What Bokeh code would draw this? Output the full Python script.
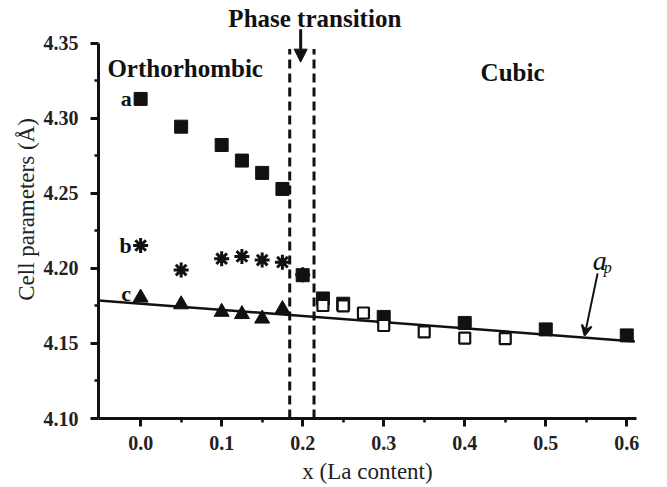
from bokeh.plotting import figure
from bokeh.models import (Range1d, FixedTicker, PrintfTickFormatter, Label,
                          Arrow, NormalHead, VeeHead)
from bokeh.embed import file_html
from bokeh.resources import INLINE

FONT = "Liberation Serif"

# ---- data ----
a_x = [0.0, 0.05, 0.1, 0.125, 0.15, 0.175, 0.2, 0.225, 0.25, 0.3, 0.4, 0.5, 0.6]
a_y = [4.313, 4.2945, 4.2823, 4.2719, 4.2637, 4.253, 4.1955, 4.180, 4.1765, 4.1677, 4.1637, 4.1594, 4.1554]

open_x = [0.225, 0.25, 0.275, 0.3, 0.35, 0.4, 0.45]
open_y = [4.1753, 4.1750, 4.1703, 4.1620, 4.1577, 4.1536, 4.1532]

b_x = [0.0, 0.05, 0.1, 0.125, 0.15, 0.175, 0.2]
b_y = [4.2153, 4.1989, 4.2065, 4.2080, 4.2056, 4.2042, 4.1958]

c_x = [0.0, 0.05, 0.1, 0.125, 0.15, 0.175]
c_y = [4.1805, 4.1760, 4.1710, 4.1695, 4.1665, 4.1728]

ap_line_x = [-0.052, 0.61]
ap_line_y = [4.1787, 4.1514]

transition_x = [0.184, 0.214]

y_ticks = [4.10, 4.15, 4.20, 4.25, 4.30, 4.35]
y_minor = [4.125, 4.175, 4.225, 4.275, 4.325]
x_ticks = [0.0, 0.1, 0.2, 0.3, 0.4, 0.5, 0.6]
x_minor = [0.05, 0.15, 0.25, 0.35, 0.45, 0.55]

p = figure(width=667, height=487, output_backend="svg", toolbar_location=None,
           x_range=Range1d(-0.052, 0.612), y_range=Range1d(4.10, 4.3786),
           min_border_left=98, min_border_right=31, min_border_top=0,
           min_border_bottom=69)
p.outline_line_color = None
p.grid.visible = False
p.background_fill_color = "white"
p.border_fill_color = "white"

for ax in (p.xaxis[0], p.yaxis[0]):
    ax.axis_line_width = 3
    ax.axis_line_color = "#111111"
    ax.major_tick_line_width = 3
    ax.major_tick_line_color = "#111111"
    ax.minor_tick_line_width = 2.5
    ax.minor_tick_line_color = "#111111"
    ax.major_tick_in = 0
    ax.major_tick_out = 8
    ax.minor_tick_in = 0
    ax.minor_tick_out = 4
    ax.major_label_text_font = FONT
    ax.major_label_text_font_size = "20px"
    ax.major_label_text_font_style = "bold"
    ax.major_label_text_color = "#222222"
    ax.axis_label_text_font = FONT
    ax.axis_label_text_font_size = "23px"
    ax.axis_label_text_font_style = "normal"
    ax.axis_label_text_color = "#222222"

p.yaxis[0].bounds = (4.10, 4.35)
p.yaxis[0].ticker = FixedTicker(ticks=y_ticks, minor_ticks=y_minor)
p.yaxis[0].formatter = PrintfTickFormatter(format="%.2f")
p.xaxis[0].ticker = FixedTicker(ticks=x_ticks, minor_ticks=x_minor)
p.xaxis[0].formatter = PrintfTickFormatter(format="%.1f")
p.yaxis[0].axis_label = "Cell parameters (Å)"
p.xaxis[0].axis_label = "x (La content)"
p.yaxis[0].major_label_standoff = 12
p.yaxis[0].axis_label_standoff = 2
p.xaxis[0].major_label_standoff = 9
p.xaxis[0].axis_label_standoff = 6

# transition dashed lines
p.segment(x0=transition_x, y0=[4.10, 4.10], x1=transition_x, y1=[4.3463, 4.3463],
          line_color="#111111", line_width=3, line_dash="9 5")

# fitted a_p line
p.line(ap_line_x, ap_line_y, line_color="#111111", line_width=2.5)

# markers
p.scatter(a_x, a_y, marker="square", size=13, fill_color="#111111", line_color="#111111")
p.scatter(open_x, open_y, marker="square", size=11, fill_color="white",
          line_color="#111111", line_width=2.2)
p.scatter(b_x, b_y, marker="asterisk", size=15, line_color="#111111", line_width=3)
p.scatter(c_x, c_y, marker="triangle", size=15, fill_color="#111111", line_color="#111111")

def lab(x, y, text, size, style="bold", align="left", baseline="middle"):
    p.add_layout(Label(x=x, y=y, text=text, text_font=FONT, text_font_size=size,
                       text_font_style=style, text_align=align, text_baseline=baseline,
                       text_color="#111111"))

lab(-0.041, 4.3332, "Orthorhombic", "25px")
lab(0.459, 4.3305, "Cubic", "25px", align="center")
lab(0.215, 4.3668, "Phase transition", "25px", align="center")
lab(-0.011, 4.313, "a", "22px", align="right")
lab(-0.011, 4.2153, "b", "22px", align="right")
lab(-0.012, 4.183, "c", "22px", align="right")
lab(0.558, 4.2055, "a", "28px", style="italic")
lab(0.5715, 4.2005, "p", "16px", style="italic")

p.add_layout(Arrow(x_start=0.1975, y_start=4.3595, x_end=0.1975, y_end=4.3375,
                   line_width=3, line_color="#111111",
                   end=NormalHead(size=13, fill_color="#111111", line_color="#111111")))
p.add_layout(Arrow(x_start=0.564, y_start=4.1967, x_end=0.548, y_end=4.1554,
                   line_width=2, line_color="#111111",
                   end=VeeHead(size=10, fill_color="#111111", line_color="#111111",
                               line_width=2)))

open("out.html", "w").write(file_html(p, INLINE))
